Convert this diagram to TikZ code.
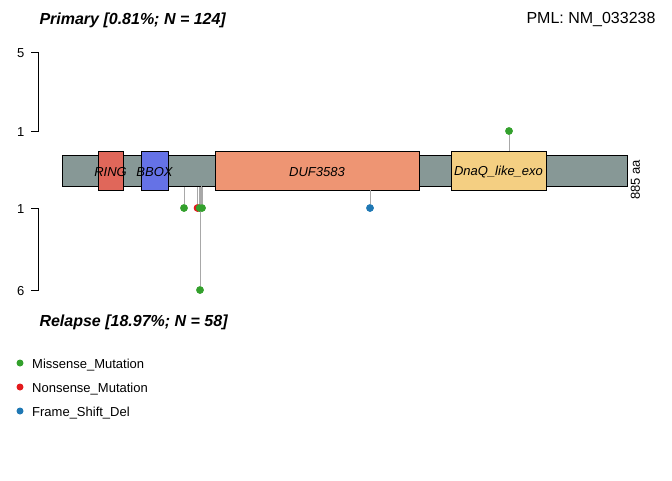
\documentclass[tikz,border=0pt]{standalone}
\usepackage{fontspec}
\setmainfont{Liberation Sans}
\definecolor{bbcol}{HTML}{879896}
\definecolor{ringcol}{HTML}{E0675A}
\definecolor{bboxcol}{HTML}{6572E6}
\definecolor{dufcol}{HTML}{EE9573}
\definecolor{dnaqcol}{HTML}{F4CF82}
\definecolor{miss}{HTML}{33A02C}
\definecolor{nons}{HTML}{E31A1C}
\definecolor{fsdel}{HTML}{1F78B4}
\definecolor{stemcol}{HTML}{A8A8A8}
\tikzset{
  dom/.style={draw, line width=.7pt, inner sep=0, minimum height=39},
  dlab/.style={label={[yshift=-2pt]center:\itshape #1}},
  dot/.style={circle, fill=#1, inner sep=0, minimum size=7.5},
  stem/.style={draw=stemcol, line width=.9pt},
  axis/.style={line width=.9pt}
}
\begin{document}
\begin{tikzpicture}[x=1pt, y=-1pt, font=\fontsize{13}{15}\selectfont]
  \useasboundingbox (0,0) rectangle (672,480);
  % titres
  \node[anchor=west, font=\fontsize{16}{18}\selectfont\bfseries\itshape] (prim) at (36,20) {Primary [0.81\%; N = 124]};
  \node[anchor=east, font=\fontsize{16}{18}\selectfont] (gene) at (659,20) {PML: NM\_033238};
  \node[anchor=west, font=\fontsize{16}{18}\selectfont\bfseries\itshape] (rel) at (36,322) {Relapse [18.97\%; N = 58]};
  % axes
  \draw[axis] (31,52) -- (38,52) -- (38,131) -- (31,131);
  \draw[axis] (31,208) -- (38,208) -- (38,290) -- (31,290);
  \foreach \y/\t in {52/5, 131/1, 208/1, 290/6}{\node[anchor=east] at (28,\y+1) {\t};}
  % proteine
  \node[draw, line width=.7pt, fill=bbcol, inner sep=0, minimum width=565, minimum height=31, anchor=north west] (bb) at (62,155) {};
  \node[rotate=90] (len) at (635.5,180) {885 aa};
  % lollipops (tiges)
  \node[dot=miss] (p1) at (509,131) {};
  \node[dot=miss] (r1) at (184,208) {};
  \node[dot=nons] (r2) at (197.5,208) {};
  \node[dot=miss] (r3) at (199.5,208) {};
  \node[dot=miss] (r4) at (202,208) {};
  \node[dot=miss] (r5) at (200,290) {};
  \node[dot=fsdel] (r6) at (370,208) {};
  \foreach \d in {r1,r2,r3,r4,r5}{\draw[stem] (\d) -- (\d |- bb.south);}
  \draw[stem] (201.5,186) -- (201.5,208);
  % domaines
  \node[dom, fill=ringcol, minimum width=25, dlab=RING] (ring) at (110.5,170.5) {};
  \node[dom, fill=bboxcol, minimum width=27, dlab=BBOX] (bbox) at (154.5,170.5) {};
  \node[dom, fill=dufcol, minimum width=204, dlab=DUF3583] (duf) at (317,170.5) {};
  \node[dom, fill=dnaqcol, minimum width=95, dlab=DnaQ\_like\_exo] (dnaq) at (498.5,170.5) {};
  \draw[stem] (p1) -- (p1 |- dnaq.north);
  \draw[stem] (r6) -- (r6 |- duf.south);
  % points
  \foreach \d/\c in {p1/miss, r1/miss, r2/nons, r3/miss, r4/miss, r5/miss, r6/fsdel}{\node[dot=\c] at (\d) {};}
  % legende
  \foreach \c/\t [count=\i] in {miss/Missense\_Mutation, nons/Nonsense\_Mutation, fsdel/Frame\_Shift\_Del}{
    \node[dot=\c, minimum size=7] (leg\i) at (20,339+24*\i) {};
    \node[anchor=west, inner sep=0] at (32,341+24*\i) {\t};
  }
\end{tikzpicture}
\end{document}
